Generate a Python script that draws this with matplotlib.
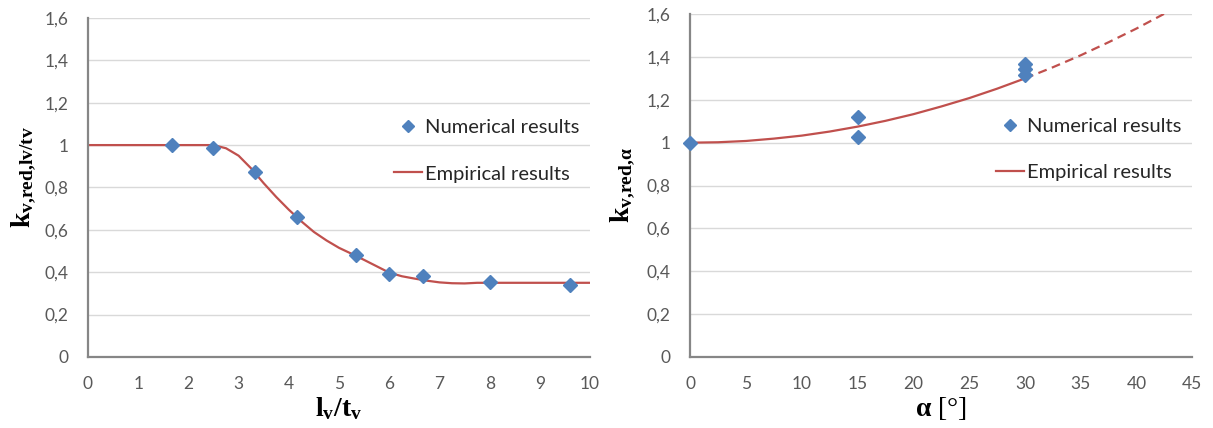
import matplotlib
matplotlib.use("Agg")
import matplotlib.pyplot as plt
from matplotlib.ticker import FuncFormatter, MultipleLocator

plt.rcParams['font.family'] = ['Lato', 'DejaVu Sans']
plt.rcParams['mathtext.fontset'] = 'custom'
plt.rcParams['mathtext.rm'] = 'Liberation Serif'
plt.rcParams['mathtext.it'] = 'Liberation Serif:italic'
plt.rcParams['mathtext.bf'] = 'Liberation Serif:bold'

# ---------------------------------------------------------------- data
# left panel: reduction factor vs l_v/t_v
lv_num_x = [1.67, 2.5, 3.33, 4.17, 5.33, 6.0, 6.67, 8.0, 9.6]
lv_num_y = [1.0, 0.985, 0.871, 0.662, 0.48, 0.392, 0.38, 0.355, 0.34]

lv_emp_x = [0, 2.5, 2.75, 3.0, 3.25, 3.5, 3.75, 4.0, 4.25, 4.5, 4.75, 5.0, 5.25,
            5.5, 5.75, 6.0, 6.25, 6.5, 6.75, 7.0, 7.25, 7.5, 7.75, 10]
lv_emp_y = [1.0, 1.0, 0.985, 0.95, 0.89, 0.82, 0.755, 0.695, 0.64, 0.59, 0.55,
            0.515, 0.487, 0.458, 0.428, 0.398, 0.381, 0.37, 0.36, 0.352, 0.348,
            0.347, 0.35, 0.35]

# right panel: reduction factor vs alpha
al_num_x = [0, 15, 15, 30, 30, 30]
al_num_y = [1.0, 1.12, 1.026, 1.366, 1.343, 1.315]

al_emp_x = [0, 2.5, 5, 7.5, 10, 12.5, 15, 17.5, 20, 22.5, 25, 27.5, 30]
al_emp_y = [1.0, 1.002, 1.008, 1.019, 1.033, 1.052, 1.075, 1.102, 1.133,
            1.169, 1.208, 1.252, 1.30]
al_ext_x = [30, 32.5, 35, 37.5, 40, 42.6]
al_ext_y = [1.30, 1.352, 1.408, 1.469, 1.533, 1.605]

# ---------------------------------------------------------------- style
blue = '#4F81BD'
red = '#C0504D'
grid_col = '#D9D9D9'
axis_col = '#868686'
tick_col = '#595959'


def comma_fmt(v, pos):
    return ("%g" % round(v, 2)).replace('.', ',')


def style_axes(ax, xmax, xstep):
    ax.set_ylim(0, 1.6)
    ax.set_xlim(0, xmax)
    ax.yaxis.set_major_locator(MultipleLocator(0.2))
    ax.xaxis.set_major_locator(MultipleLocator(xstep))
    ax.yaxis.set_major_formatter(FuncFormatter(comma_fmt))
    ax.grid(axis='y', color=grid_col, linewidth=1.0)
    ax.set_axisbelow(True)
    for s in ['top', 'right']:
        ax.spines[s].set_visible(False)
    for s in ['left', 'bottom']:
        ax.spines[s].set_color(axis_col)
        ax.spines[s].set_linewidth(1.6)
    ax.tick_params(length=0, labelsize=12.5, labelcolor=tick_col)
    ax.tick_params(axis='x', pad=14)
    ax.tick_params(axis='y', pad=14)
    for lab in ax.get_xticklabels() + ax.get_yticklabels():
        lab.set_clip_on(False)


def add_legend(ax, anchor):
    h, l = ax.get_legend_handles_labels()
    ax.legend(h[::-1], l[::-1], loc='upper right', bbox_to_anchor=anchor,
              frameon=False, fontsize=14.5, labelspacing=1.45, handlelength=1.4,
              handletextpad=0.15, markerscale=0.75, labelcolor='#262626')


fig = plt.figure(figsize=(12.13, 4.28), dpi=100, facecolor='w')

ax1 = fig.add_axes([0.0725, 0.166, 0.414, 0.792])
style_axes(ax1, 10, 1)
ax1.plot(lv_emp_x, lv_emp_y, color=red, linewidth=1.6, label='Empirical results', zorder=2)
ax1.plot(lv_num_x, lv_num_y, 'D', color=blue, markersize=7.5, linestyle='none',
         label='Numerical results', zorder=3, clip_on=False)
ax1.set_xlabel(r'$\mathbf{l_v/t_v}$', fontsize=20, labelpad=2)
ax1.set_ylabel(r'$\mathbf{k_{v{,}red{,}lv/tv}}$', fontsize=20)
ax1.yaxis.set_label_coords(-0.1, 0.53)
add_legend(ax1, (1.015, 0.755))

ax2 = fig.add_axes([0.569, 0.166, 0.414, 0.801])
style_axes(ax2, 45, 5)
ax2.plot(al_emp_x, al_emp_y, color=red, linewidth=1.6, label='Empirical results', zorder=2)
ax2.plot(al_ext_x, al_ext_y, color=red, linewidth=1.6, linestyle=(0, (4, 2.5)), zorder=2)
ax2.plot(al_num_x, al_num_y, 'D', color=blue, markersize=7.5, linestyle='none',
         label='Numerical results', zorder=3, clip_on=False)
ax2.set_xlabel(r'$\mathbf{\alpha}$ [°]', fontsize=20, labelpad=2, family='Liberation Serif')
ax2.set_ylabel(r'$\mathbf{k_{v{,}red{,}\alpha}}$', fontsize=20)
ax2.yaxis.set_label_coords(-0.105, 0.5)
add_legend(ax2, (1.015, 0.75))

plt.savefig('out.png', dpi=100, facecolor='w')
plt.close(fig)
